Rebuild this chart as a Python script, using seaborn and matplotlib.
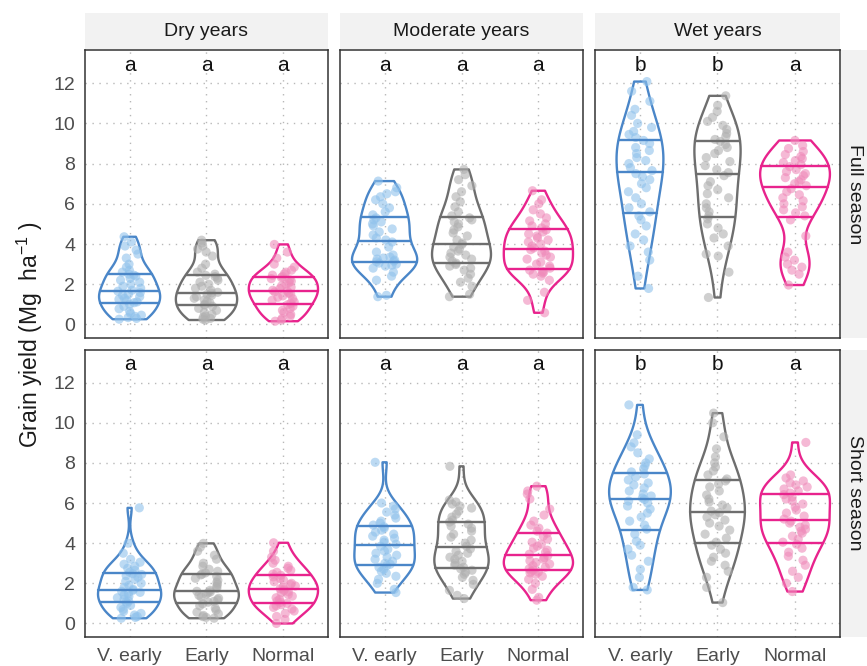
import numpy as np
import pandas as pd
import matplotlib
matplotlib.use("Agg")
import matplotlib.pyplot as plt
from matplotlib.patches import Rectangle
import seaborn as sns

# ---- data: grain yield (Mg/ha) per season length x year type x maturity group ----
maturities = ["V. early", "Early", "Normal"]
conditions = ["Dry years", "Moderate years", "Wet years"]
seasons = ["Full season", "Short season"]

dry_full_vearly = [0.26, 0.3, 0.34, 0.4, 0.46, 0.55, 0.65, 0.78, 0.9, 1.0,
                   1.08, 1.12, 1.2, 1.25, 1.3, 1.38, 1.45, 1.5, 1.58, 1.65,
                   1.7, 1.8, 1.9, 2.0, 2.1, 2.2, 2.3, 2.4, 2.45, 2.5,
                   2.6, 2.7, 2.85, 3.0, 3.3, 3.5, 3.7, 3.9, 4.1, 4.36]
dry_full_early = [0.22, 0.26, 0.3, 0.36, 0.42, 0.5, 0.6, 0.7, 0.8, 0.9,
                  0.96, 1.0, 1.08, 1.15, 1.22, 1.3, 1.38, 1.45, 1.5, 1.56,
                  1.6, 1.7, 1.8, 1.9, 2.0, 2.1, 2.2, 2.3, 2.38, 2.44,
                  2.5, 2.6, 2.8, 3.0, 3.4, 3.6, 3.75, 3.9, 4.05, 4.19]
dry_full_normal = [0.16, 0.22, 0.3, 0.4, 0.5, 0.6, 0.7, 0.8, 0.9, 0.98,
                   1.05, 1.12, 1.2, 1.28, 1.35, 1.42, 1.5, 1.56, 1.62, 1.66,
                   1.7, 1.78, 1.85, 1.92, 2.0, 2.08, 2.15, 2.22, 2.28, 2.33,
                   2.38, 2.45, 2.52, 2.6, 2.7, 2.85, 3.0, 3.3, 3.6, 3.98]
mod_full_vearly = [1.38, 1.45, 2.2, 2.4, 2.6, 2.8, 2.9, 2.95, 3.0, 3.05,
                   3.12, 3.15, 3.2, 3.25, 3.3, 3.35, 3.45, 3.6, 3.85, 4.1,
                   4.2, 4.3, 4.45, 4.6, 4.75, 4.9, 5.0, 5.1, 5.2, 5.3,
                   5.45, 5.6, 5.8, 6.0, 6.2, 6.35, 6.5, 6.6, 6.8, 7.13]
mod_full_early = [1.38, 1.5, 1.9, 2.1, 2.3, 2.5, 2.7, 2.8, 2.9, 2.98,
                  3.05, 3.15, 3.25, 3.35, 3.45, 3.55, 3.65, 3.75, 3.85, 3.98,
                  4.05, 4.2, 4.4, 4.55, 4.7, 4.85, 5.0, 5.1, 5.2, 5.3,
                  5.4, 5.6, 5.85, 6.1, 6.35, 6.6, 6.9, 7.2, 7.45, 7.71]
mod_full_normal = [0.58, 1.2, 1.6, 2.2, 2.4, 2.5, 2.55, 2.6, 2.65, 2.7,
                   2.8, 2.9, 3.0, 3.1, 3.25, 3.35, 3.45, 3.55, 3.65, 3.72,
                   3.8, 3.9, 4.0, 4.1, 4.2, 4.3, 4.4, 4.5, 4.6, 4.7,
                   4.8, 4.9, 5.0, 5.15, 5.3, 5.5, 5.7, 6.0, 6.2, 6.65]
wet_full_vearly = [1.79, 2.4, 3.2, 3.6, 3.9, 4.2, 4.5, 4.9, 5.2, 5.4,
                   5.6, 5.8, 6.0, 6.3, 6.6, 6.8, 7.0, 7.2, 7.35, 7.5,
                   7.65, 7.8, 8.0, 8.15, 8.3, 8.5, 8.65, 8.8, 9.0, 9.15,
                   9.3, 9.45, 9.6, 9.8, 10.0, 10.4, 10.7, 11.1, 11.6, 12.08]
wet_full_early = [1.34, 2.6, 3.4, 3.5, 3.9, 4.3, 4.5, 4.8, 5.0, 5.25,
                  5.4, 5.6, 5.8, 6.0, 6.3, 6.5, 6.7, 6.9, 7.1, 7.4,
                  7.55, 7.7, 7.9, 8.1, 8.3, 8.5, 8.65, 8.8, 8.95, 9.1,
                  9.2, 9.35, 9.5, 9.7, 9.9, 10.1, 10.3, 10.6, 10.9, 11.37]
wet_full_normal = [1.96, 2.5, 2.7, 2.85, 3.0, 3.2, 3.35, 3.6, 4.4, 5.2,
                   5.4, 5.55, 5.7, 5.85, 6.0, 6.15, 6.3, 6.45, 6.6, 6.75,
                   6.9, 7.0, 7.1, 7.2, 7.3, 7.4, 7.5, 7.6, 7.7, 7.85,
                   7.95, 8.05, 8.15, 8.25, 8.35, 8.45, 8.6, 8.75, 8.9, 9.15]
dry_short_vearly = [0.26, 0.3, 0.35, 0.42, 0.5, 0.6, 0.7, 0.8, 0.9, 1.0,
                    1.07, 1.12, 1.2, 1.28, 1.35, 1.42, 1.5, 1.55, 1.6, 1.65,
                    1.7, 1.8, 1.9, 2.0, 2.1, 2.2, 2.3, 2.38, 2.44, 2.48,
                    2.55, 2.65, 2.75, 2.85, 2.95, 3.05, 3.2, 3.5, 4.0, 5.76]
dry_short_early = [0.26, 0.3, 0.34, 0.4, 0.48, 0.56, 0.66, 0.76, 0.88, 0.98,
                   1.06, 1.1, 1.18, 1.25, 1.32, 1.4, 1.46, 1.52, 1.57, 1.6,
                   1.65, 1.75, 1.85, 1.95, 2.05, 2.15, 2.25, 2.35, 2.42, 2.46,
                   2.52, 2.6, 2.7, 2.85, 3.0, 3.2, 3.4, 3.6, 3.8, 3.99]
dry_short_normal = [0.0, 0.2, 0.35, 0.5, 0.62, 0.72, 0.8, 0.88, 0.94, 1.0,
                    1.05, 1.12, 1.2, 1.28, 1.36, 1.44, 1.52, 1.58, 1.64, 1.69,
                    1.73, 1.8, 1.87, 1.94, 2.0, 2.08, 2.16, 2.24, 2.32, 2.4,
                    2.46, 2.55, 2.65, 2.75, 2.85, 3.0, 3.15, 3.3, 3.6, 4.02]
mod_short_vearly = [1.54, 1.7, 2.0, 2.2, 2.35, 2.5, 2.6, 2.7, 2.8, 2.88,
                    2.95, 3.0, 3.1, 3.2, 3.3, 3.4, 3.5, 3.6, 3.7, 3.85,
                    3.95, 4.05, 4.15, 4.25, 4.35, 4.45, 4.55, 4.65, 4.75, 4.82,
                    4.9, 5.0, 5.1, 5.25, 5.4, 5.55, 5.7, 5.85, 6.0, 8.03]
mod_short_early = [1.24, 1.4, 1.65, 1.95, 2.15, 2.3, 2.45, 2.55, 2.65, 2.72,
                   2.8, 2.9, 3.0, 3.1, 3.2, 3.3, 3.4, 3.5, 3.6, 3.72,
                   3.85, 4.0, 4.15, 4.3, 4.45, 4.6, 4.75, 4.85, 4.95, 5.05,
                   5.15, 5.3, 5.45, 5.6, 5.75, 5.85, 5.95, 6.05, 6.15, 7.83]
mod_short_normal = [1.16, 1.3, 1.7, 2.0, 2.2, 2.35, 2.45, 2.52, 2.56, 2.6,
                    2.66, 2.72, 2.8, 2.88, 2.96, 3.04, 3.12, 3.2, 3.28, 3.38,
                    3.45, 3.55, 3.65, 3.75, 3.85, 3.95, 4.05, 4.2, 4.35, 4.5,
                    4.6, 4.75, 4.9, 5.1, 5.4, 5.7, 6.2, 6.45, 6.6, 6.84]
wet_short_vearly = [1.67, 1.8, 2.3, 2.7, 3.1, 3.4, 3.7, 3.9, 4.1, 4.45,
                    4.7, 4.9, 5.1, 5.3, 5.5, 5.7, 5.85, 6.0, 6.1, 6.18,
                    6.25, 6.35, 6.45, 6.6, 6.75, 6.9, 7.0, 7.15, 7.3, 7.45,
                    7.55, 7.7, 7.85, 8.0, 8.2, 8.5, 8.8, 9.0, 9.4, 10.89]
wet_short_early = [1.04, 1.8, 2.3, 2.6, 2.9, 3.1, 3.3, 3.5, 3.7, 3.9,
                   4.05, 4.25, 4.45, 4.65, 4.85, 5.0, 5.15, 5.3, 5.42, 5.52,
                   5.6, 5.75, 5.9, 6.05, 6.2, 6.4, 6.6, 6.8, 6.95, 7.1,
                   7.2, 7.4, 7.6, 7.8, 8.0, 8.3, 8.7, 9.3, 10.0, 10.48]
wet_short_normal = [1.59, 2.0, 2.3, 2.6, 2.9, 3.15, 3.35, 3.55, 3.75, 3.95,
                    4.05, 4.2, 4.35, 4.5, 4.6, 4.7, 4.8, 4.9, 5.0, 5.1,
                    5.2, 5.35, 5.5, 5.65, 5.8, 5.95, 6.1, 6.2, 6.3, 6.42,
                    6.5, 6.6, 6.7, 6.8, 6.9, 7.0, 7.1, 7.25, 7.4, 9.02]

# significance letters per panel (row = season, column = year type)
letters_full = [["a", "a", "a"], ["a", "a", "a"], ["b", "b", "a"]]
letters_short = [["a", "a", "a"], ["a", "a", "a"], ["b", "b", "a"]]

groups = {
    ("Full season", "Dry years"): [dry_full_vearly, dry_full_early, dry_full_normal],
    ("Full season", "Moderate years"): [mod_full_vearly, mod_full_early, mod_full_normal],
    ("Full season", "Wet years"): [wet_full_vearly, wet_full_early, wet_full_normal],
    ("Short season", "Dry years"): [dry_short_vearly, dry_short_early, dry_short_normal],
    ("Short season", "Moderate years"): [mod_short_vearly, mod_short_early, mod_short_normal],
    ("Short season", "Wet years"): [wet_short_vearly, wet_short_early, wet_short_normal],
}
letters = {"Full season": letters_full, "Short season": letters_short}

rows = []
for (season, cond), vals in groups.items():
    for mat, ys in zip(maturities, vals):
        for y in ys:
            rows.append((season, cond, mat, y))
df = pd.DataFrame(rows, columns=["season", "condition", "maturity", "grain_yield"])

# ---- styling ----
line_colors = {"V. early": "#4A86C8", "Early": "#6E6E6E", "Normal": "#E8238D"}
point_colors = {"V. early": "#90C2EC", "Early": "#B0B0B0", "Normal": "#EF8BBA"}

sns.set_theme(style="white")
plt.rcParams["font.family"] = ["Liberation Sans", "DejaVu Sans"]
plt.rcParams["mathtext.fontset"] = "custom"
plt.rcParams["mathtext.rm"] = "Liberation Sans"
plt.rcParams["mathtext.it"] = "Liberation Sans:italic"

W, H = 867, 666
fig = plt.figure(figsize=(W / 100, H / 100), dpi=100)
fig.patch.set_facecolor("white")


def box(x0, y0, x1, y1):
    return [x0 / W, 1 - y1 / H, (x1 - x0) / W, (y1 - y0) / H]


def nrd0(x):
    """Silverman's rule-of-thumb bandwidth (R's bw.nrd0)."""
    x = np.asarray(x, float)
    sd = x.std(ddof=1)
    q1, q3 = np.percentile(x, [25, 75])
    lo = min(sd, (q3 - q1) / 1.34)
    if lo <= 0:
        lo = sd
    return 0.9 * lo * len(x) ** -0.2


def kde_peak(x, bw):
    x = np.asarray(x, float)
    grid = np.linspace(x.min(), x.max(), 200)
    d = np.exp(-0.5 * ((grid[:, None] - x[None, :]) / bw) ** 2).sum(1)
    return d.max() / (len(x) * bw * np.sqrt(2 * np.pi))


col_x = [(85, 328), (340, 583), (595, 840)]
row_y = [(50, 337.5), (349.5, 636.5)]
strip_top = (13, 49)
strip_col = "#F2F2F2"
grid_kw = dict(color="#B8B8B8", linestyle=(0, (1, 4)), linewidth=1.0, zorder=0)
max_width = 0.9

np.random.seed(7)
for r, season in enumerate(seasons):
    for c, cond in enumerate(conditions):
        ax = fig.add_axes(box(col_x[c][0], row_y[r][0], col_x[c][1], row_y[r][1]))
        sub = df[(df.season == season) & (df.condition == cond)]

        sns.stripplot(data=sub, x="maturity", y="grain_yield", hue="maturity",
                      order=maturities, hue_order=maturities, palette=point_colors,
                      jitter=0.16, size=6.6, alpha=0.6, linewidth=0,
                      legend=False, ax=ax, zorder=2)

        # equal-area violins: widths scaled by each KDE's peak within the panel
        bws, peaks = {}, {}
        for mat in maturities:
            ys = sub.loc[sub.maturity == mat, "grain_yield"].to_numpy()
            bws[mat] = nrd0(ys)
            peaks[mat] = kde_peak(ys, bws[mat])
        top = max(peaks.values())
        for mat in maturities:
            part = sub[sub.maturity == mat]
            sd = part.grain_yield.std(ddof=1)
            sns.violinplot(data=part, x="maturity", y="grain_yield", order=maturities,
                           color=line_colors[mat], fill=False, inner="quart",
                           inner_kws=dict(linestyle="-", linewidth=1.7),
                           cut=0, density_norm="width", width=max_width * peaks[mat] / top,
                           linewidth=1.7, bw_method=bws[mat] / sd, ax=ax)
        for ln in ax.lines:
            ln.set_linestyle("-")
        for coll in ax.collections:
            try:
                coll.set_linestyle("-")
            except Exception:
                pass

        for yv in range(0, 13, 2):
            ax.axhline(yv, **grid_kw)
        for xv in range(3):
            ax.axvline(xv, **grid_kw)

        for i, lab in enumerate(letters[season][c]):
            ax.text(i, 12.9, lab, ha="center", va="center", fontsize=15, color="#111111")

        ax.set_xlim(-0.58, 2.58)
        ax.set_ylim(-0.65, 13.65)
        ax.set_xlabel("")
        ax.set_ylabel("")
        ax.set_yticks(range(0, 13, 2))
        ax.set_xticks(range(3))
        for sp in ax.spines.values():
            sp.set_color("#333333")
            sp.set_linewidth(1.1)
        ax.tick_params(axis="both", length=4, width=1.0, color="#333333",
                       labelsize=14, labelcolor="#4D4D4D", pad=3)
        if c == 0:
            ax.set_yticklabels([str(v) for v in range(0, 13, 2)])
        else:
            ax.tick_params(axis="y", left=False, labelleft=False)
        if r == 1:
            ax.set_xticklabels(maturities)
            ax.tick_params(axis="x", pad=4)
        else:
            ax.tick_params(axis="x", bottom=False, labelbottom=False)

# facet strips along the top
for c, cond in enumerate(conditions):
    x0, x1 = col_x[c]
    fig.patches.append(Rectangle((x0 / W, 1 - strip_top[1] / H), (x1 - x0) / W,
                                 (strip_top[1] - strip_top[0]) / H,
                                 transform=fig.transFigure, facecolor=strip_col,
                                 edgecolor="none", zorder=0))
    fig.text((x0 + x1) / 2 / W, 1 - (strip_top[0] + strip_top[1]) / 2 / H, cond,
             ha="center", va="center", fontsize=14, color="#1A1A1A")

# facet strips along the right side
for r, season in enumerate(seasons):
    y0, y1 = row_y[r]
    fig.patches.append(Rectangle((841 / W, 1 - y1 / H), 40 / W, (y1 - y0) / H,
                                 transform=fig.transFigure, facecolor=strip_col,
                                 edgecolor="none", zorder=0))
    fig.text(855 / W, 1 - (y0 + y1) / 2 / H, season, rotation=270,
             ha="center", va="center", fontsize=14, color="#1A1A1A")

fig.text(30 / W, 1 - 335 / H, "Grain yield (Mg  ha$^{-1}$ )", rotation=90,
         ha="center", va="center", fontsize=16.5, color="#1A1A1A")

fig.savefig("out.png", dpi=100)
